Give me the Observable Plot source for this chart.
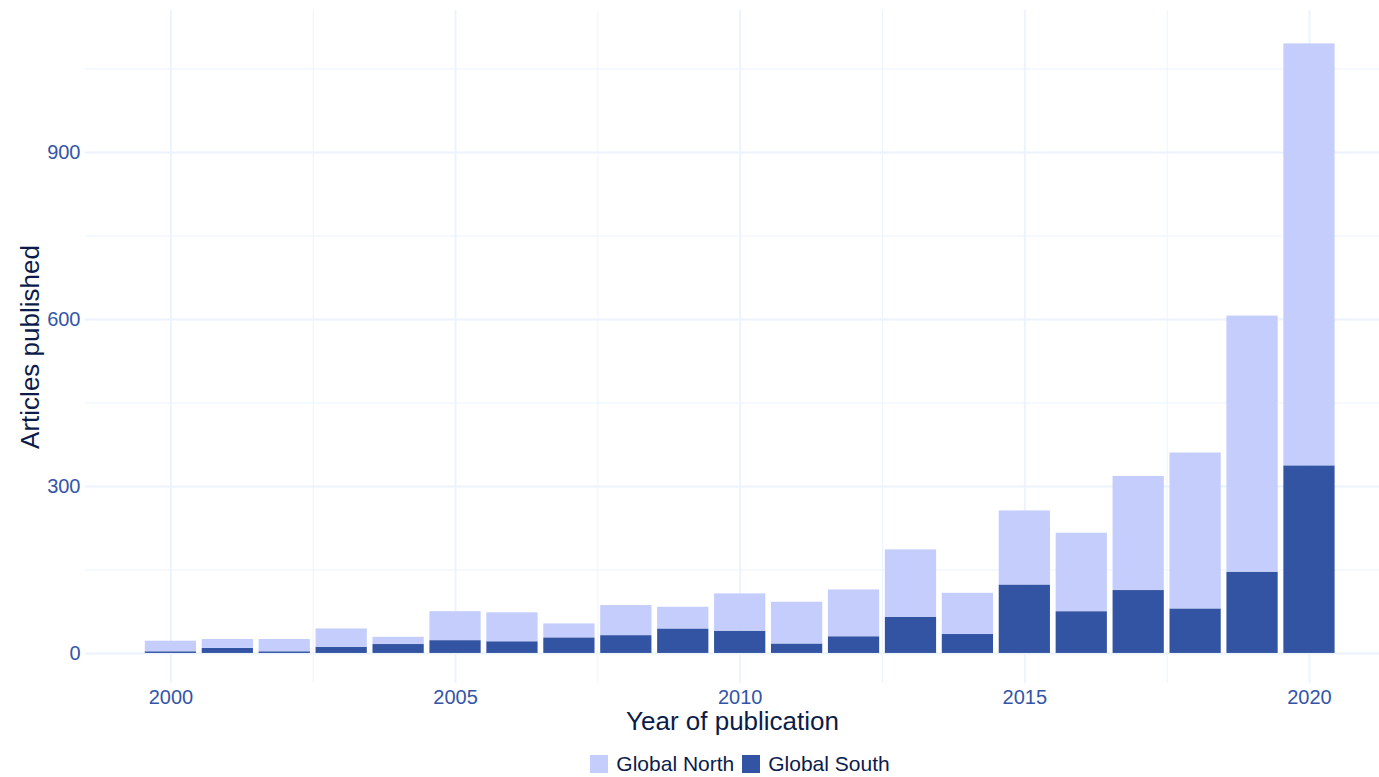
<!DOCTYPE html>
<html>
<head>
<meta charset="utf-8">
<script src="https://cdn.jsdelivr.net/npm/d3@7"></script>
<script src="https://cdn.jsdelivr.net/npm/@observablehq/plot@0.6"></script>
<style>
  html, body { margin: 0; padding: 0; background: #fff; }
  body { width: 1379px; height: 777px; overflow: hidden; font-family: "Liberation Sans", Arial, sans-serif; }
  #legend { display: flex; justify-content: center; align-items: center; gap: 8px;
            margin-left: 85px; width: 1310px; margin-top: 12px; height: 24px; font-size: 21px; color: #0c1c4a; }
  .sw { display: inline-flex; align-items: center; gap: 8px; }
  .box { width: 18px; height: 18px; display: inline-block; }
</style>
</head>
<body>
<div id="chart"></div>
<div id="legend"></div>
<script>
const years = [2000,2001,2002,2003,2004,2005,2006,2007,2008,2009,2010,2011,2012,2013,2014,2015,2016,2017,2018,2019,2020];
const southValues = [3,9,3,11,16,23,21,28,32,44,40,17,30,65,34,123,75,113,80,146,337];
const northValues = [19,16,22,33,13,52,52,25,54,39,67,75,84,121,74,133,141,205,280,460,758];
const seriesNames = ["Global North", "Global South"];
const seriesColors = ["#c4cdfc", "#3254a2"];
const xTicks = [2000, 2005, 2010, 2015, 2020];
const xMinor = [2002.5, 2007.5, 2012.5, 2017.5];
const yTicks = [0, 300, 600, 900];
const yMinor = [150, 450, 750, 1050];
const xTitle = "Year of publication";
const yTitle = "Articles published";

const rows = [];
years.forEach((yr, i) => {
  rows.push({year: yr, series: "Global South", y1: 0, y2: southValues[i]});
  rows.push({year: yr, series: "Global North", y1: southValues[i], y2: southValues[i] + northValues[i]});
});

const gridColor = "#ebf4fe";
const tickColor = "#3355a8";
const titleColor = "#0c1c4a";

const plot = Plot.plot({
  width: 1379,
  height: 740,
  marginLeft: 85,
  marginRight: 0,
  marginTop: 10,
  marginBottom: 57,
  style: {fontFamily: "'Liberation Sans', Arial, sans-serif", background: "#fff"},
  x: {domain: [1998.5, 2021.23], axis: null},
  y: {domain: [-54, 1155], axis: null},
  color: {domain: seriesNames, range: seriesColors},
  marks: [
    Plot.ruleX(xMinor, {stroke: gridColor, strokeWidth: 1}),
    Plot.ruleY(yMinor, {stroke: gridColor, strokeWidth: 1}),
    Plot.ruleX(xTicks, {stroke: gridColor, strokeWidth: 2}),
    Plot.ruleY(yTicks, {stroke: gridColor, strokeWidth: 2}),
    Plot.rectY(rows, {
      x1: d => d.year - 0.45,
      x2: d => d.year + 0.45,
      y1: "y1",
      y2: "y2",
      fill: "series"
    }),
    Plot.axisX(xTicks, {tickSize: 0, tickPadding: 6, tickFormat: d => String(d), fontSize: 20, color: tickColor, label: null}),
    Plot.axisY(yTicks, {tickSize: 0, tickPadding: 5, tickFormat: d => String(d), fontSize: 20, color: tickColor, label: null}),
    Plot.text([xTitle], {frameAnchor: "bottom", dy: 38, lineAnchor: "middle", fontSize: 26, fill: titleColor}),
    Plot.text([yTitle], {frameAnchor: "left", dx: -55, rotate: -90, textAnchor: "middle", lineAnchor: "middle", fontSize: 26, fill: titleColor})
  ]
});
document.getElementById("chart").appendChild(plot);

const legend = document.getElementById("legend");
seriesNames.forEach((name, i) => {
  const s = document.createElement("span");
  s.className = "sw";
  const b = document.createElement("span");
  b.className = "box";
  b.style.background = seriesColors[i];
  const t = document.createElement("span");
  t.textContent = name;
  s.appendChild(b); s.appendChild(t);
  legend.appendChild(s);
});
</script>
</body>
</html>
